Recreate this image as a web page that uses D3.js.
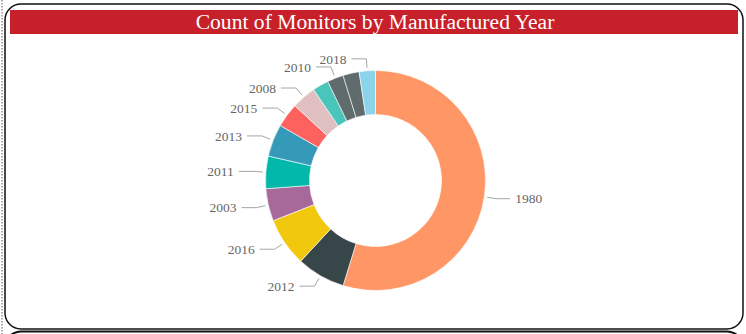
<!DOCTYPE html>
<html>
<head>
<meta charset="utf-8">
<script src="https://cdn.jsdelivr.net/npm/d3@7/dist/d3.min.js"></script>
<style>
  html, body { margin: 0; padding: 0; background: #fff; }
  svg { display: block; }
</style>
</head>
<body>
<svg id="chart" width="746" height="334"></svg>
<script>
// ---- data ----
const title = "Count of Monitors by Manufactured Year";
const categories = ["1980", "2012", "2016", "2003", "2011", "2013", "2015", "2008", "2017", "2010", "2014", "2018"];
const counts     = [46, 6, 6, 4, 4, 4, 3, 3, 2, 2, 2, 2];
const colors     = ["#FE9666", "#374649", "#F2C80F", "#A66999", "#01B8AA", "#3599B8", "#FD625E", "#DFBFBF", "#4AC5BB", "#5F6B6D", "#5F6B6D", "#8AD4EB"];
const hiddenLabels = ["2017", "2014"];

// ---- layout ----
const W = 746, H = 334;
const svg = d3.select("#chart");

// outer dotted line on left
svg.append("line")
  .attr("x1", 2).attr("x2", 2).attr("y1", 0).attr("y2", H)
  .attr("stroke", "#777").attr("stroke-width", 1.2).attr("stroke-dasharray", "1.5,1.5");

// rounded card
svg.append("rect")
  .attr("x", 5).attr("y", 4).attr("width", 738).attr("height", 325)
  .attr("rx", 16).attr("ry", 16)
  .attr("fill", "#fff").attr("stroke", "#111").attr("stroke-width", 1.5);

// next card (top edge visible at bottom)
svg.append("rect")
  .attr("x", 5).attr("y", 331.5).attr("width", 738).attr("height", 60)
  .attr("rx", 16).attr("ry", 16)
  .attr("fill", "#fff").attr("stroke", "#111").attr("stroke-width", 2);

// title band
svg.append("rect")
  .attr("x", 10).attr("y", 10).attr("width", 728).attr("height", 24)
  .attr("fill", "#C8202A");
svg.append("text")
  .attr("x", 375).attr("y", 29)
  .attr("text-anchor", "middle")
  .attr("font-family", "'Liberation Serif', 'Times New Roman', serif")
  .attr("font-size", 21.6)
  .attr("fill", "#fff")
  .text(title);

// donut
const cx = 375.5, cy = 180.5, R = 110, r = 66;
const data = categories.map((c, i) => ({ cat: c, value: counts[i], color: colors[i] }));
const pie = d3.pie().sort(null).value(d => d.value);
const arcs = pie(data);
const arc = d3.arc().innerRadius(r).outerRadius(R);

const g = svg.append("g").attr("transform", `translate(${cx},${cy})`);
g.selectAll("path.slice")
  .data(arcs)
  .join("path")
  .attr("class", "slice")
  .attr("d", arc)
  .attr("fill", d => d.data.color)
  .attr("stroke", "#fff")
  .attr("stroke-width", 0.6);

// labels
function pt(a, rad) { return [Math.sin(a) * rad, -Math.cos(a) * rad]; }
const lab = g.append("g");
arcs.forEach(d => {
  if (hiddenLabels.includes(d.data.cat)) return;
  const mid = (d.startAngle + d.endAngle) / 2;
  const right = Math.sin(mid) > 0;
  const p0 = pt(mid, R + 3);
  const p1 = pt(mid, R + 12);
  const p2 = [p1[0] + (right ? 14 : -15), p1[1]];
  lab.append("polyline")
    .attr("points", [p0, p1, p2].map(p => p.join(",")).join(" "))
    .attr("fill", "none")
    .attr("stroke", "#a6a6a6")
    .attr("stroke-width", 1);
  lab.append("text")
    .attr("x", p2[0] + (right ? 5 : -5))
    .attr("y", p2[1])
    .attr("dy", "0.35em")
    .attr("text-anchor", right ? "start" : "end")
    .attr("font-family", "'Liberation Serif', 'Times New Roman', serif")
    .attr("font-size", 13.5)
    .attr("fill", "#666")
    .text(d.data.cat);
});
</script>
</body>
</html>
